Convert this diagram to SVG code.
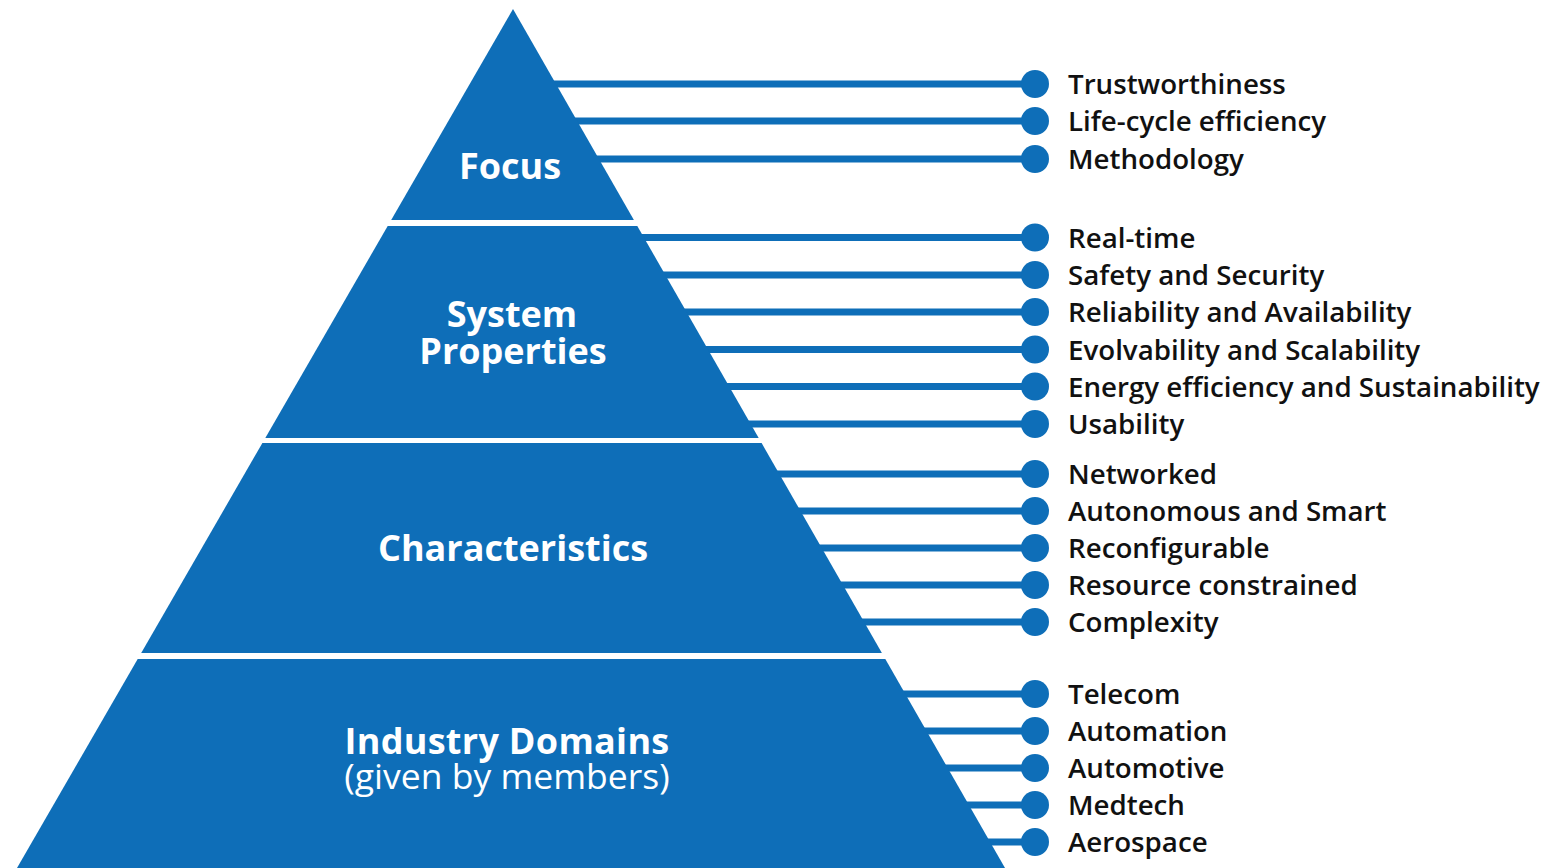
<svg xmlns="http://www.w3.org/2000/svg" width="1562" height="868" viewBox="0 0 1562 868">
<style>
.tier{fill:#0e6eb8}
.conn{stroke:#0e6eb8;stroke-width:7;fill:none}
.dot{fill:#0e6eb8}
.lbl{font-family:"Open Sans","Liberation Sans",sans-serif;font-weight:600;font-size:27.7px;fill:#111}
.tl{font-family:"Open Sans","Liberation Sans",sans-serif;font-weight:700;font-size:36px;fill:#fff;text-anchor:middle}
.tr{font-family:"Open Sans","Liberation Sans",sans-serif;font-weight:400;font-size:35.5px;fill:#fff;text-anchor:middle}
</style>
<rect width="1562" height="868" fill="#fff"/>
<g id="connectors">
<line class="conn" x1="552" y1="84" x2="1035" y2="84"/>
<line class="conn" x1="573" y1="121" x2="1035" y2="121"/>
<line class="conn" x1="595" y1="159" x2="1035" y2="159"/>
<line class="conn" x1="640" y1="237.5" x2="1035" y2="237.5"/>
<line class="conn" x1="661" y1="275" x2="1035" y2="275"/>
<line class="conn" x1="682" y1="312" x2="1035" y2="312"/>
<line class="conn" x1="704" y1="349.5" x2="1035" y2="349.5"/>
<line class="conn" x1="725" y1="386.5" x2="1035" y2="386.5"/>
<line class="conn" x1="746" y1="424" x2="1035" y2="424"/>
<line class="conn" x1="775" y1="474" x2="1035" y2="474"/>
<line class="conn" x1="796" y1="511" x2="1035" y2="511"/>
<line class="conn" x1="818" y1="548" x2="1035" y2="548"/>
<line class="conn" x1="839" y1="585" x2="1035" y2="585"/>
<line class="conn" x1="860" y1="622" x2="1035" y2="622"/>
<line class="conn" x1="901" y1="694" x2="1035" y2="694"/>
<line class="conn" x1="922" y1="731" x2="1035" y2="731"/>
<line class="conn" x1="944" y1="768" x2="1035" y2="768"/>
<line class="conn" x1="965" y1="805" x2="1035" y2="805"/>
<line class="conn" x1="986" y1="842" x2="1035" y2="842"/>
</g>
<g id="tier-focus">
<polygon class="tier" points="513,9 633.9,220 391.2,220"/>
<text class="tl" x="510" y="179">Focus</text>
</g>
<g id="tier-system-properties">
<polygon class="tier" points="387.7,226 637.3,226 758.7,438 265.3,438"/>
<text class="tl" x="512" y="327">System</text>
<text class="tl" x="513" y="364">Properties</text>
</g>
<g id="tier-characteristics">
<polygon class="tier" points="262.4,443 761.6,443 881.9,653 141.2,653"/>
<text class="tl" x="513" y="561">Characteristics</text>
</g>
<g id="tier-industry-domains">
<polygon class="tier" points="137.7,659 885.3,659 1005,868 17,868"/>
<text class="tl" x="507" y="754" letter-spacing="0.3">Industry Domains</text>
<text class="tr" x="507" y="789">(given by members)</text>
</g>
<g id="item-trustworthiness"><circle class="dot" cx="1035" cy="84" r="14"/><text class="lbl" x="1068" y="94">Trustworthiness</text></g>
<g id="item-life-cycle"><circle class="dot" cx="1035" cy="121" r="14"/><text class="lbl" x="1068" y="131">Life-cycle efficiency</text></g>
<g id="item-methodology"><circle class="dot" cx="1035" cy="159" r="14"/><text class="lbl" x="1068" y="169">Methodology</text></g>
<g id="item-real-time"><circle class="dot" cx="1035" cy="237.5" r="14"/><text class="lbl" x="1068" y="247.5">Real-time</text></g>
<g id="item-safety"><circle class="dot" cx="1035" cy="275" r="14"/><text class="lbl" x="1068" y="285">Safety and Security</text></g>
<g id="item-reliability"><circle class="dot" cx="1035" cy="312" r="14"/><text class="lbl" x="1068" y="322">Reliability and Availability</text></g>
<g id="item-evolvability"><circle class="dot" cx="1035" cy="349.5" r="14"/><text class="lbl" x="1068" y="359.5">Evolvability and Scalability</text></g>
<g id="item-energy"><circle class="dot" cx="1035" cy="386.5" r="14"/><text class="lbl" x="1068" y="396.5">Energy efficiency and Sustainability</text></g>
<g id="item-usability"><circle class="dot" cx="1035" cy="424" r="14"/><text class="lbl" x="1068" y="434">Usability</text></g>
<g id="item-networked"><circle class="dot" cx="1035" cy="474" r="14"/><text class="lbl" x="1068" y="484">Networked</text></g>
<g id="item-autonomous"><circle class="dot" cx="1035" cy="511" r="14"/><text class="lbl" x="1068" y="521">Autonomous and Smart</text></g>
<g id="item-reconfigurable"><circle class="dot" cx="1035" cy="548" r="14"/><text class="lbl" x="1068" y="558">Reconfigurable</text></g>
<g id="item-resource"><circle class="dot" cx="1035" cy="585" r="14"/><text class="lbl" x="1068" y="595">Resource constrained</text></g>
<g id="item-complexity"><circle class="dot" cx="1035" cy="622" r="14"/><text class="lbl" x="1068" y="632">Complexity</text></g>
<g id="item-telecom"><circle class="dot" cx="1035" cy="694" r="14"/><text class="lbl" x="1068" y="704">Telecom</text></g>
<g id="item-automation"><circle class="dot" cx="1035" cy="731" r="14"/><text class="lbl" x="1068" y="741">Automation</text></g>
<g id="item-automotive"><circle class="dot" cx="1035" cy="768" r="14"/><text class="lbl" x="1068" y="778">Automotive</text></g>
<g id="item-medtech"><circle class="dot" cx="1035" cy="805" r="14"/><text class="lbl" x="1068" y="815">Medtech</text></g>
<g id="item-aerospace"><circle class="dot" cx="1035" cy="842" r="14"/><text class="lbl" x="1068" y="852">Aerospace</text></g>
</svg>
